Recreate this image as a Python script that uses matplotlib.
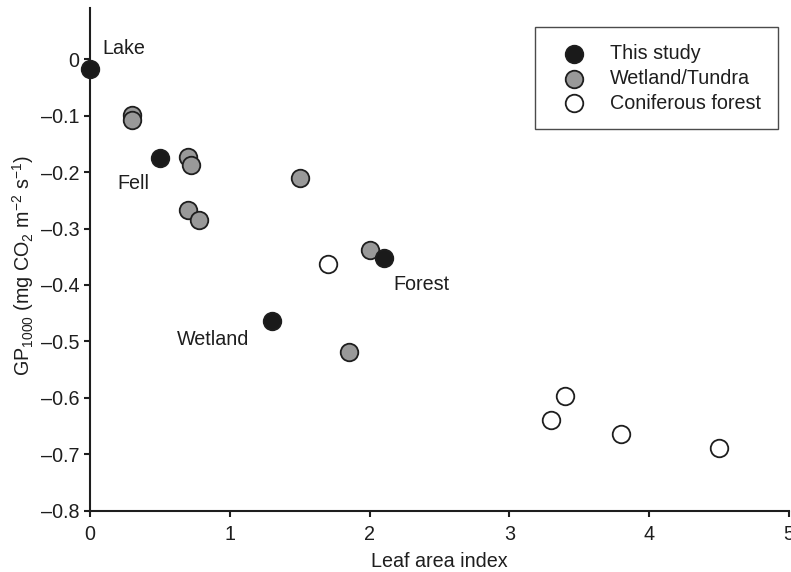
import matplotlib
matplotlib.use("Agg")
import matplotlib.pyplot as plt
from matplotlib.ticker import FuncFormatter

plt.rcParams["font.family"] = ["Liberation Sans", "DejaVu Sans"]
plt.rcParams["mathtext.fontset"] = "custom"
plt.rcParams["mathtext.rm"] = "Liberation Sans"
plt.rcParams["mathtext.it"] = "Liberation Sans:italic"
plt.rcParams["mathtext.bf"] = "Liberation Sans:bold"

# Leaf area index vs. GP1000 for the three groups of sites
study_lai = [0.0, 0.5, 1.3, 2.1]
study_gp = [-0.017, -0.175, -0.463, -0.352]
study_names = ["Lake", "Fell", "Wetland", "Forest"]

wetland_lai = [0.3, 0.3, 0.7, 0.72, 0.7, 0.78, 1.5, 2.0, 1.85]
wetland_gp = [-0.098, -0.108, -0.173, -0.188, -0.268, -0.284, -0.21, -0.338, -0.518]

conifer_lai = [1.7, 3.3, 3.4, 3.8, 4.5]
conifer_gp = [-0.362, -0.64, -0.597, -0.664, -0.689]

x_ticks = [0, 1, 2, 3, 4, 5]
y_ticks = [0, -0.1, -0.2, -0.3, -0.4, -0.5, -0.6, -0.7, -0.8]

ink = "#1e1e1e"
fs = 14.2
fig = plt.figure(figsize=(7.91, 5.72), dpi=100)
ax = fig.add_axes([0.1138, 0.1072, 0.8837, 0.879])

mk = dict(s=160, linewidths=1.3, edgecolors=ink, zorder=3, clip_on=False)
ax.scatter(wetland_lai, wetland_gp, facecolors="#999999", label="Wetland/Tundra", **mk)
ax.scatter(conifer_lai, conifer_gp, facecolors="white", label="Coniferous forest", **mk)
ax.scatter(study_lai, study_gp, facecolors="#1a1a1a", label="This study", **mk)

# Site names next to the points of this study
offsets = {"Lake": (0.086, 0.036), "Fell": (-0.307, -0.046),
           "Wetland": (-0.678, -0.034), "Forest": (0.067, -0.048)}
for name, x, y in zip(study_names, study_lai, study_gp):
    dx, dy = offsets[name]
    ax.text(x + dx, y + dy, name, fontsize=fs, color=ink, ha="left", va="center")

ax.set_xlim(0, 5)
ax.set_ylim(-0.8, 0.091)
ax.set_xticks(x_ticks)
ax.set_yticks(y_ticks)
ax.yaxis.set_major_formatter(FuncFormatter(lambda v, p: "0" if abs(v) < 1e-9 else f"{v:.1f}".replace("-", "\u2013")))
ax.xaxis.set_major_formatter(FuncFormatter(lambda v, p: f"{v:.0f}"))

for s in ["top", "right"]:
    ax.spines[s].set_visible(False)
for s in ["left", "bottom"]:
    ax.spines[s].set_linewidth(1.5)
    ax.spines[s].set_color(ink)
ax.tick_params(direction="out", length=4.5, width=1.5, colors=ink, labelsize=fs, pad=3)
ax.tick_params(axis="x", pad=6)

ax.set_xlabel("Leaf area index", fontsize=fs, color=ink)
ax.set_ylabel(r"GP$_{1000}$ (mg CO$_2$ m$^{-2}$ s$^{-1}$)", fontsize=fs, color=ink)
ax.xaxis.set_label_coords(0.5, -0.082)
ax.yaxis.set_label_coords(-0.077, 0.487)

handles, labels = ax.get_legend_handles_labels()
order = [2, 0, 1]
leg = ax.legend([handles[i] for i in order], [labels[i] for i in order],
                loc="upper right", bbox_to_anchor=(0.984, 0.962), fontsize=fs,
                frameon=True, fancybox=False, edgecolor=ink, borderpad=0.85,
                handlelength=2.25, handletextpad=0.7, labelspacing=0.3,
                borderaxespad=0, scatterpoints=1)
leg.get_frame().set_linewidth(1.0)
for t in leg.get_texts():
    t.set_color(ink)

fig.savefig("out.png", dpi=100)
